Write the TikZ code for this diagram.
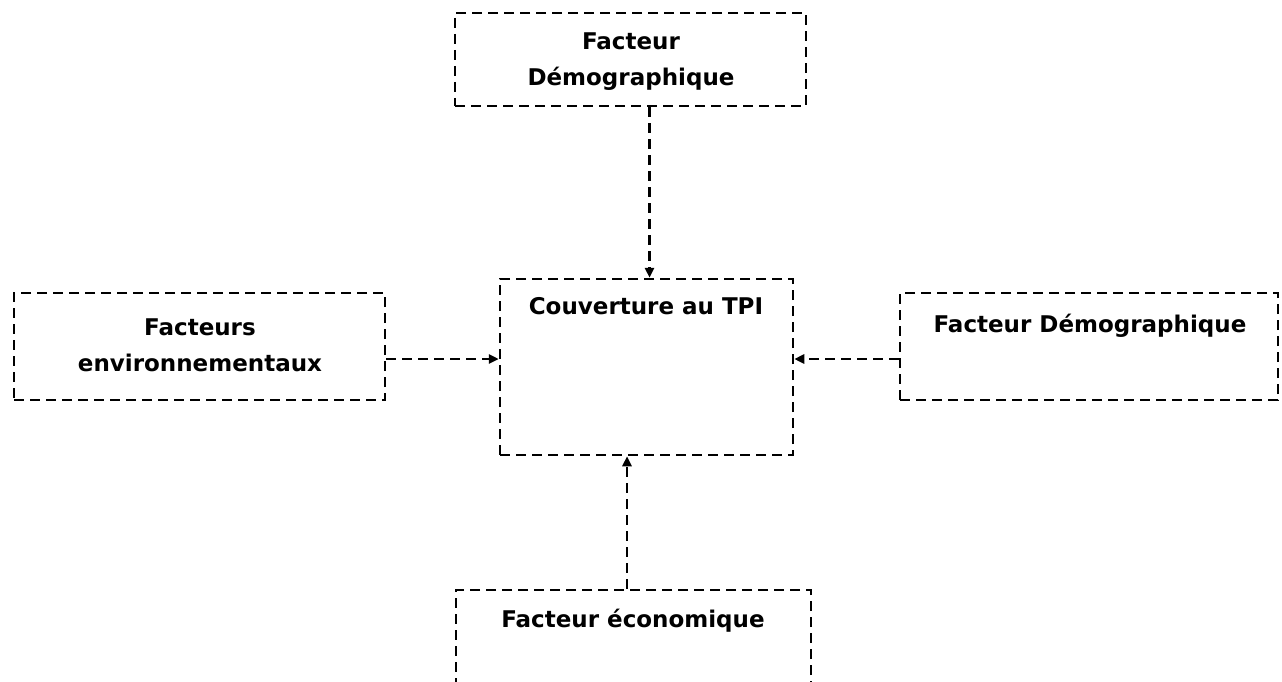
\documentclass[tikz,border=0pt]{standalone}
\usepackage{fontspec}
\setmainfont{DejaVu Sans}
\usetikzlibrary{arrows.meta}
\begin{document}
\begin{tikzpicture}[x=1pt,y=-1pt,
  box/.style={draw=black,line width=2.5pt,dash pattern=on 10pt off 6pt,rectangle,inner sep=0pt},
  lbl/.style={font=\fontsize{23}{36}\selectfont\bfseries,align=center,inner sep=0pt},
  arr/.style={line width=2.5pt,dash pattern=on 10pt off 6pt,-{Triangle[length=10pt,width=9pt]}}]
\useasboundingbox (0,0) rectangle (1282,682);
\clip (0,0) rectangle (1282,682);
\node[box,minimum width=351pt,minimum height=93pt] (top) at (630.5,59.5) {};
\node[box,minimum width=293pt,minimum height=176pt] (center) at (646.5,367) {};
\node[box,minimum width=371pt,minimum height=107pt] (left) at (199.5,346.5) {};
\node[box,minimum width=378pt,minimum height=107pt] (right) at (1089,346.5) {};
\node[box,minimum width=355pt,minimum height=130pt] (bottom) at (633.5,655) {};
\node[lbl] (ttop) at (631,62) {Facteur\\Démographique};
\node[lbl] (tcenter) at (646,306) {Couverture au TPI};
\node[lbl] (tleft) at (200,345) {Facteurs\\environnementaux};
\node[lbl] (tright) at (1090,326) {Facteur Démographique};
\node[lbl] (tbottom) at (633,621) {Facteur économique};
\draw[arr] ([xshift=19pt]top.south) -- ([xshift=19pt]top.south |- center.north);
\draw[arr] ([yshift=-12.5pt]left.east) -- ([yshift=-12.5pt]left.east -| center.west);
\draw[arr] ([yshift=-12.5pt]right.west) -- ([yshift=-12.5pt]right.west -| center.east);
\draw[arr] ([xshift=-6.5pt]bottom.north) -- ([xshift=-6.5pt]bottom.north |- center.south);
\end{tikzpicture}
\end{document}
